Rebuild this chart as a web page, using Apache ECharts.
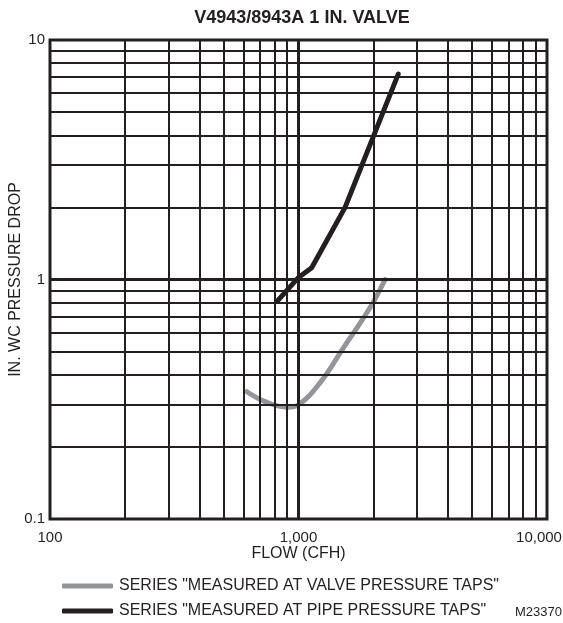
<!DOCTYPE html>
<html>
<head>
<meta charset="utf-8">
<script src="https://cdn.jsdelivr.net/npm/echarts@6/dist/echarts.min.js"></script>
<style>
  html, body { margin: 0; padding: 0; background: #fff; }
  #chart { width: 563px; height: 623px; }
</style>
</head>
<body>
<div id="chart"></div>
<script>
  // flow (CFH), pressure drop (in. wc)
  var valveData = [[620, 0.34], [730, 0.31], [900, 0.293], [1000, 0.30], [1220, 0.37], [1500, 0.51], [1950, 0.77], [2230, 1.0]]
  var pipeData = [[820, 0.81], [1000, 1.02], [1130, 1.12], [1540, 2.0], [2000, 3.95], [2520, 7.2]]

  var xMinorLines = [200, 300, 400, 500, 600, 700, 800, 900, 2000, 3000, 4000, 5000, 6000, 7000, 8000, 9000]
  var xMajorLines = [1000]
  var yMinorLines = [0.2, 0.3, 0.4, 0.5, 0.6, 0.7, 0.8, 0.9, 2, 3, 4, 5, 6, 7, 8, 9]
  var yMajorLines = [1]

  var valveName = 'SERIES "MEASURED AT VALVE PRESSURE TAPS"'
  var pipeName = 'SERIES "MEASURED AT PIPE PRESSURE TAPS"'

  var ink = '#231f20'
  var font = 'Liberation Sans, Arial, sans-serif'

  var gridLines = []
  xMinorLines.forEach(function (v) { gridLines.push({ xAxis: v, lineStyle: { width: 2 } }) })
  xMajorLines.forEach(function (v) { gridLines.push({ xAxis: v, lineStyle: { width: 3 } }) })
  yMinorLines.forEach(function (v) { gridLines.push({ yAxis: v, lineStyle: { width: 2 } }) })
  yMajorLines.forEach(function (v) { gridLines.push({ yAxis: v, lineStyle: { width: 3 } }) })

  function withCommas(v) {
    return String(Math.round(v)).replace(/\B(?=(\d{3})+(?!\d))/g, ',')
  }

  function legendFor(name, top) {
    return {
      orient: 'horizontal',
      left: 57,
      top: top,
      itemWidth: 51,
      itemHeight: 5,
      icon: 'roundRect',
      data: [name],
      textStyle: { fontSize: 16, color: ink, fontFamily: font, padding: [0, 0, 0, 1] }
    }
  }

  var chart = echarts.init(document.getElementById('chart'))
  chart.setOption({
    animation: false,
    textStyle: { fontFamily: font },
    title: {
      text: 'V4943/8943A 1 IN. VALVE',
      left: 297,
      textAlign: 'center',
      top: 4,
      textStyle: { fontSize: 18, fontWeight: 'bold', color: ink, fontFamily: font }
    },
    grid: {
      left: 50,
      right: 16,
      top: 40,
      bottom: 104,
      show: true,
      borderColor: ink,
      borderWidth: 3,
      outerBoundsMode: 'none',
      containLabel: false
    },
    legend: [legendFor(valveName, 573), legendFor(pipeName, 598)],
    xAxis: {
      type: 'log',
      logBase: 10,
      min: 100,
      max: 10000,
      name: 'FLOW (CFH)',
      nameLocation: 'middle',
      nameGap: 27,
      nameMoveOverlap: false,
      nameTextStyle: { fontSize: 16, color: ink },
      axisLine: { show: false },
      axisTick: { show: false },
      splitLine: { show: false },
      axisLabel: {
        fontSize: 15,
        color: ink,
        margin: 11,
        showMaxLabel: true,
        formatter: function (v) {
          return v >= 10000 ? '{edge|' + withCommas(v) + '}' : withCommas(v)
        },
        rich: {
          edge: { fontSize: 15, color: ink, fontFamily: font, padding: [0, 16, 0, 0] }
        }
      }
    },
    yAxis: {
      type: 'log',
      logBase: 10,
      min: 0.1,
      max: 10,
      name: 'IN. WC PRESSURE DROP',
      nameLocation: 'middle',
      nameGap: 26,
      nameMoveOverlap: false,
      nameTextStyle: { fontSize: 16, color: ink },
      axisLine: { show: false },
      axisTick: { show: false },
      splitLine: { show: false },
      axisLabel: {
        fontSize: 15,
        color: ink,
        margin: 5,
        formatter: function (v) { return v >= 1 ? String(Math.round(v)) : String(+v.toFixed(1)) }
      }
    },
    graphic: [{
      type: 'text',
      right: 1,
      top: 606,
      style: { text: 'M23370', fontSize: 13, fill: ink, fontFamily: font }
    }],
    series: [
      {
        name: 'grid',
        type: 'line',
        data: [],
        z: 1,
        silent: true,
        markLine: {
          silent: true,
          symbol: ['none', 'none'],
          label: { show: false },
          lineStyle: { type: 'solid', color: ink },
          emphasis: { disabled: true },
          data: gridLines
        }
      },
      {
        name: valveName,
        type: 'line',
        data: valveData,
        smooth: 0.4,
        symbol: 'none',
        z: 3,
        color: '#939598',
        lineStyle: { width: 5, color: '#939598', cap: 'round' }
      },
      {
        name: pipeName,
        type: 'line',
        data: pipeData,
        symbol: 'none',
        z: 4,
        color: ink,
        lineStyle: { width: 5, color: ink, cap: 'round', join: 'round' }
      }
    ]
  })
</script>
</body>
</html>
